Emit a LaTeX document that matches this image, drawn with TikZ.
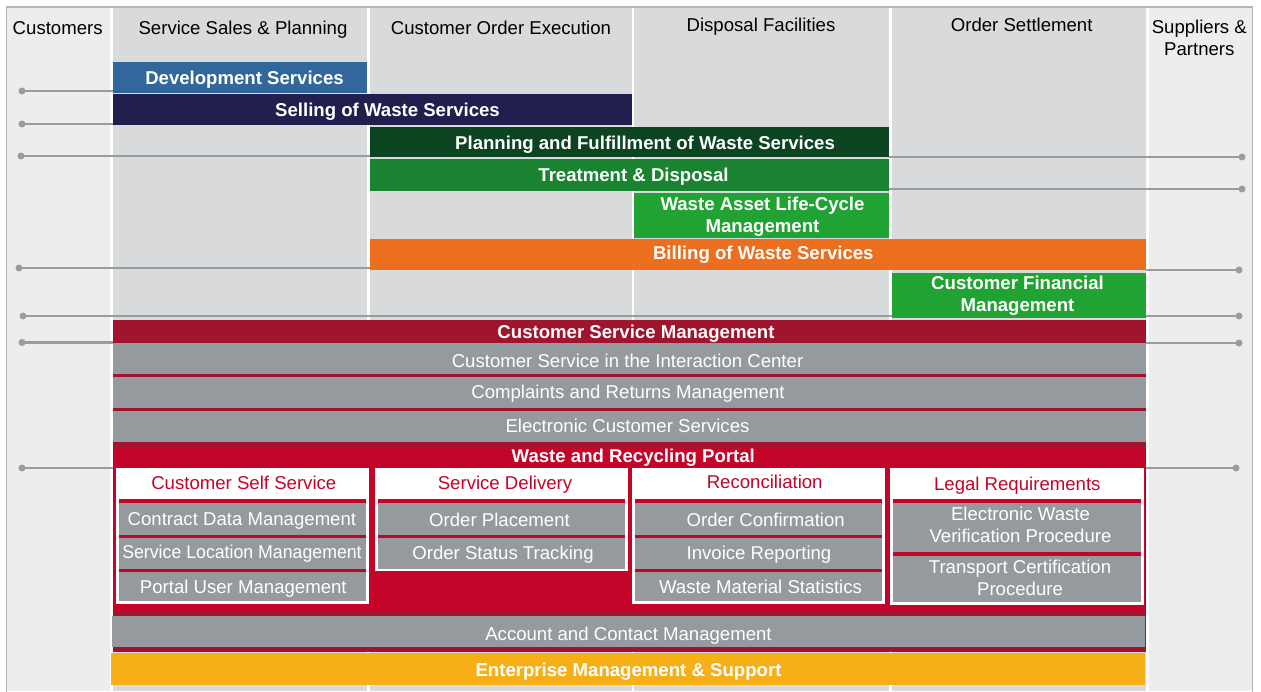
\documentclass[tikz,border=0pt]{standalone}
\usepackage{graphicx}
\usepackage{fontspec}
\setmainfont{Liberation Sans}
\definecolor{colmid}{HTML}{D9DADC}
\definecolor{colout}{HTML}{ECEDEC}
\definecolor{framegrey}{HTML}{B5B7B9}
\definecolor{conngrey}{HTML}{989DA0}
\definecolor{cDev}{HTML}{31679A}
\definecolor{cSell}{HTML}{201F4E}
\definecolor{cPlan}{HTML}{0C4320}
\definecolor{cTreat}{HTML}{1A8331}
\definecolor{cLight}{HTML}{21A333}
\definecolor{cBill}{HTML}{EC6F1F}
\definecolor{cDkRed}{HTML}{A0142E}
\definecolor{cItem}{HTML}{949A9D}
\definecolor{cPortal}{HTML}{C40429}
\definecolor{cGold}{HTML}{F7AF18}
\newcommand\fs{\fontsize{18.6pt}{22pt}\selectfont}
\newcommand\rbox[6]{\node[bar,fill=#2,minimum width={(#5-#3)*1pt},minimum height={(#6-#4)*1pt}] (#1) at (#3,#4) {};}
\begin{document}
\begin{tikzpicture}[x=1pt,y=-1pt,
  bar/.style={rectangle,draw=none,inner sep=0pt,outer sep=0pt,anchor=north west},
  lbl/.style={inner sep=0pt,outer sep=0pt,text height=13.3pt,text depth=0pt,font=\fs},
  bold/.style={lbl,font=\fs\bfseries,text=white},
  plain/.style={lbl,text=white},
  head/.style={lbl,text=black},
  sub/.style={lbl,text=cPortal},
  two/.style={inner sep=0pt,outer sep=0pt,align=center,font=\fs},
  twobold/.style={two,font=\fs\bfseries,text=white},
  conn/.style={draw=conngrey,line width=2.3pt},
  dot/.style={circle,fill=conngrey,draw=none,inner sep=0pt,minimum size=7pt},
]
\useasboundingbox (0,0) rectangle (1261,691);
\fill[white] (0,0) rectangle (1261,691);
% columns
\fill[colout] (7,8) rectangle (110,691);
\fill[colmid] (113,8) rectangle (367,691);
\fill[colmid] (370,8) rectangle (632,691);
\fill[colmid] (634,8) rectangle (889,691);
\fill[colmid] (892,8) rectangle (1146,691);
\fill[colout] (1149,8) rectangle (1252,691);
\draw[framegrey,line width=1.5pt] (6.5,700) -- (6.5,7) -- (1252.6,7) -- (1252.6,700);
% headers
\node[head] (hCust) at (57.7,27.6) {Customers};
\node[head] (hSSP) at (243,27.6) {Service Sales \& Planning};
\node[head] (hCOE) at (501,27.6) {Customer Order Execution};
\node[head] (hDF) at (761,25) {Disposal Facilities};
\node[head] (hOS) at (1021.7,25) {Order Settlement};
\node[two,text=black] (hSP) at (1199.3,37.4) {Suppliers \&\\Partners};
% dots
\node[dot] (dl1) at (22,91) {};
\node[dot] (dl2) at (22,124) {};
\node[dot] (dl3) at (21,156) {};
\node[dot] (dl4) at (19,268) {};
\node[dot] (dl5) at (23,316) {};
\node[dot] (dl6) at (22,342.5) {};
\node[dot] (dl7) at (22,468) {};
\node[dot] (dr1) at (1242,157) {};
\node[dot] (dr2) at (1242,189) {};
\node[dot] (dr3) at (1239,270) {};
\node[dot] (dr4) at (1239,316) {};
\node[dot] (dr5) at (1239,343) {};
\node[dot] (dr6) at (1236,468) {};
\draw[conn] (dl5.center) -- (dr4.center);
% bars
\rbox{dev}{cDev}{113}{62}{367}{93}
\rbox{sell}{cSell}{113}{94}{632}{125}
\rbox{plan}{cPlan}{370}{127}{889}{157}
\rbox{treat}{cTreat}{370}{159}{889}{191}
\rbox{asset}{cLight}{634}{193}{889}{238}
\rbox{bill}{cBill}{370}{239}{1146}{270}
\rbox{cfm}{cLight}{892}{273}{1146}{317.5}
\rbox{csm}{cDkRed}{113}{320}{1146}{652}
\rbox{csi}{cItem}{113}{343}{1146}{374}
\rbox{crm}{cItem}{113}{377}{1146}{408}
\rbox{ecs}{cItem}{113}{411}{1146}{442}
\rbox{portal}{cPortal}{113}{447}{1146}{612}
\rbox{acm}{cItem}{112}{616}{1145}{647}
\rbox{ems}{cGold}{111}{653}{1145}{685}
% sub boxes
\rbox{selfB}{white}{116}{468}{369}{604}
\rbox{selfR}{cPortal}{119}{499}{366}{601}
\rbox{cdm}{cItem}{119}{503}{366}{535}
\rbox{slm}{cItem}{119}{538}{366}{569}
\rbox{pum}{cItem}{119}{572}{366}{601}
\rbox{delB}{white}{375}{468}{628}{571}
\rbox{delR}{cPortal}{378}{499}{625}{568.5}
\rbox{op}{cItem}{378}{503}{625}{535}
\rbox{ost}{cItem}{378}{538}{625}{568.5}
\rbox{recB}{white}{632}{468}{885}{604}
\rbox{recR}{cPortal}{635}{499}{882}{601}
\rbox{oc}{cItem}{635}{503}{882}{535}
\rbox{ir}{cItem}{635}{538}{882}{569}
\rbox{wms}{cItem}{635}{572}{882}{601}
\rbox{legB}{white}{890}{468}{1144}{605}
\rbox{legR}{cPortal}{893}{499}{1141}{602}
\rbox{ewv}{cItem}{893}{503}{1141}{552}
\rbox{tcp}{cItem}{893}{556}{1141}{602}
% connectors
\draw[conn] (dl1.center) -- (dl1.center -| dev.west);
\draw[conn] (dl2.center) -- (dl2.center -| sell.west);
\draw[conn] (dl3.center) -- (dl3.center -| plan.west);
\draw[conn] (dl4.center) -- (dl4.center -| bill.west);
\draw[conn] (dl6.center) -- (dl6.center -| csm.west);
\draw[conn] (dl7.center) -- (dl7.center -| portal.west);
\draw[conn] (dr1.center) -- (dr1.center -| plan.east);
\draw[conn] (dr2.center) -- (dr2.center -| treat.east);
\draw[conn] (dr3.center) -- (dr3.center -| bill.east);
\draw[conn] (dr5.center) -- (dr5.center -| csm.east);
\draw[conn] (dr6.center) -- (dr6.center -| portal.east);
% texts
\node[bold] (tDev) at (244.5,77.5) {Development Services};
\node[bold] (tSell) at (387.5,109.5) {Selling of Waste Services};
\node[bold] (tPlan) at (645,142.7) {Planning and Fulfillment of Waste Services};
\node[bold] (tTreat) at (633.5,175.3) {Treatment \& Disposal};
\node[twobold] (tAsset) at (762.5,216.3) {Waste Asset Life-Cycle\\Management};
\node[bold] (tBill) at (763.3,252.7) {Billing of Waste Services};
\node[twobold] (tCfm) at (1017.5,296) {Customer Financial\\Management};
\node[bold] (tCsm) at (636,332.3) {Customer Service Management};
\node[plain] (tCsi) at (627.5,360.5) {Customer Service in the Interaction Center};
\node[plain] (tCrm) at (628,392.3) {Complaints and Returns Management};
\node[plain] (tEcs) at (627.5,425.8) {Electronic Customer Services};
\node[bold] (tPortal) at (633.3,456.3) {Waste and Recycling Portal};
\node[sub] (tSelf) at (243.8,482.5) {Customer Self Service};
\node[sub] (tDel) at (505,482.8) {Service Delivery};
\node[sub] (tRec) at (764.7,481.5) {Reconciliation};
\node[sub] (tLeg) at (1017.3,483.7) {Legal Requirements};
\node[plain] (tCdm) at (241.9,518.8) {Contract Data Management};
\node[plain] (tSlm) at (242,552) {\scalebox{0.953}[1]{Service Location Management}};
\node[plain] (tPum) at (243.3,586.7) {Portal User Management};
\node[plain] (tOp) at (499.5,519.7) {Order Placement};
\node[plain] (tOst) at (503,552.5) {Order Status Tracking};
\node[plain] (tOc) at (765.7,519.7) {Order Confirmation};
\node[plain] (tIr) at (759,552.7) {Invoice Reporting};
\node[plain] (tWms) at (760.5,587) {Waste Material Statistics};
\node[two,text=white] (tEwv) at (1020.5,525.2) {Electronic Waste\\Verification Procedure};
\node[two,text=white] (tTcp) at (1020,577.7) {Transport Certification\\Procedure};
\node[plain] (tAcm) at (628.5,633.8) {Account and Contact Management};
\node[bold] (tEms) at (628.5,669.7) {Enterprise Management \& Support};
\end{tikzpicture}
\end{document}
